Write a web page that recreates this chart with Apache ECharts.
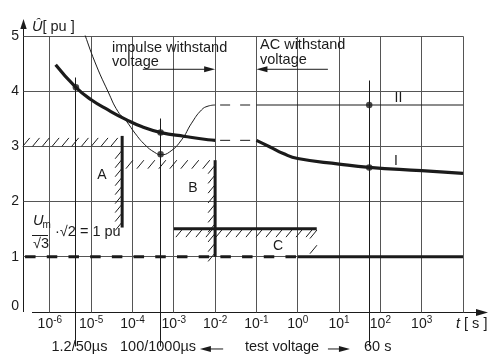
<!DOCTYPE html>
<html><head><meta charset="utf-8">
<script src="https://cdn.jsdelivr.net/npm/echarts@6/dist/echarts.min.js"></script>
<style>html,body{margin:0;padding:0;background:#fff}#c{width:491px;height:354px}</style>
</head><body><div id="c"></div>
<script>
// ---- data (x = log10 t [s], y = U [pu]) ----
const decades = [-6, -5, -4, -3, -2, -1, 0, 1, 2, 3, 4];
const tickLabels = [-6, -5, -4, -3, -2, -1, 0, 1, 2, 3];
const uTicks = [1, 2, 3, 4, 5];
const curveI_impulse = [[-5.86,4.48],[-5.37,4.07],[-4.99,3.84],[-4.59,3.66],[-4.14,3.48],[-3.78,3.36],[-3.31,3.25],[-2.73,3.18],[-2.17,3.12],[-2.0,3.11]];
const curveI_ac = [[-1,3.11],[-0.67,2.99],[-0.35,2.87],[0,2.78],[1,2.68],[1.73,2.62],[3,2.56],[4,2.51]];
const curveII_impulse = [[-5.27,5.25],[-5.195,5.11],[-4.91,4.53],[-4.59,3.99],[-4.35,3.63],[-4.14,3.45],[-3.94,3.24],[-3.70,3.03],[-3.46,2.89],[-3.31,2.85],[-3.10,2.90],[-2.81,3.12],[-2.57,3.42],[-2.33,3.66],[-2.17,3.73],[-2.0,3.75]];
const curveII_ac = [[-1,3.75],[4,3.75]];
const gapI = [[-2,3.11],[-1,3.11]];
const gapII = [[-2,3.75],[-1,3.75]];
const dots = [[-5.37,4.07],[-3.32,3.25],[-3.32,2.86],[1.73,2.62],[1.73,3.75]];
const testTimes = [-5.39, -3.32, 1.73];
const testTops = [4.25, 3.51, 4.20];
const testBottom = -0.62;
const puDashed = [[-6.60,1],[0,1]];
const puSolid = [[0,1],[4,1]];
const limitLines = [[-4.25,3.19,-4.25,1.53],[-2,2.75,-2,1],[-3,1.51,0.46,1.51]];
// hatch rows: t1,u1,t2,u2, side(+1 above/right, -1 below/left), tick count
const hatchRows = [
  [-6.656,3.0,-4.525,3.0, 1,10],
  [-4.25,2.93,-4.25,1.63,-1,9],
  [-3.99,2.75,-2.13,2.75,-1,8],
  [-2,2.66,-2,1.07,-1,10],
  [-2.78,1.51,0.37,1.51,-1,14],
  [0.465,1.485,0.465,1.21,-1,2]
];

const FONT = '"Liberation Sans", Arial, Helvetica, sans-serif';
const INK = '#1b1b1b', GRID = '#555';

const chart = echarts.init(document.getElementById('c'), null, {renderer:'canvas'});

function segSeries(name, data, style, z, crisp) {
  return {
    type:'custom', name, z, silent:true, clip:false,
    encode:{x:[0,2], y:[1,3]}, data,
    renderItem:(params, api) => {
      let a = api.coord([api.value(0), api.value(1)]);
      let b = api.coord([api.value(2), api.value(3)]);
      if (crisp) { const r = v => Math.round(v - 0.5) + 0.5; a = [r(a[0]), r(a[1])]; b = [r(b[0]), r(b[1])]; }
      return {type:'line', shape:{x1:a[0], y1:a[1], x2:b[0], y2:b[1]}, style};
    }
  };
}

const gridSegs = decades.map(d => [d, 0, d, 5]).concat(uTicks.map(u => [-6.65, u, 4, u]));
const testSegs = testTimes.map((t, i) => [t, testTops[i], t, testBottom]);
const arrowSegs = [[-3.75,4.397,-2.0,4.397],[0.73,4.397,-1.0,4.397],[-1.805,-0.67,-2.369,-0.67],[0.731,-0.67,1.264,-0.67]];

const txt = (text, x, y, opts) => ({type:'text', x, y, silent:true, z:50,
  style:Object.assign({text, fontSize:14.5, fontFamily:FONT, fill:INK, align:'left', verticalAlign:'middle'}, opts || {})});

const option = {
  animation:false,
  grid:{left:23, right:28, top:36, bottom:42},
  xAxis:{type:'value', min:-6.65, max:4, axisLine:{show:false}, axisTick:{show:false}, splitLine:{show:false},
    axisLabel:{customValues:tickLabels, margin:3, formatter: v => '{b|10}{s|' + v + '}',
      rich:{b:{fontSize:14, lineHeight:18, fontFamily:FONT, color:INK},
            s:{fontSize:10, lineHeight:10, verticalAlign:'top', fontFamily:FONT, color:INK}}}},
  yAxis:{type:'value', min:0, max:5, interval:1, axisLine:{show:false}, axisTick:{show:false}, splitLine:{show:false},
    axisLabel:{margin:4, fontSize:14, fontFamily:FONT, color:INK,
      formatter: v => v === 0 ? '{z|0}' : String(v),
      rich:{z:{fontSize:14, fontFamily:FONT, color:INK, padding:[0,0,12,0]}}}},
  graphic:[
    {type:'line', silent:true, shape:{x1:23.5,y1:312,x2:23.5,y2:27}, style:{stroke:INK, lineWidth:1}},
    {type:'polygon', silent:true, shape:{points:[[23.5,19],[20.3,29],[26.7,29]]}, style:{fill:INK}},
    {type:'line', silent:true, shape:{x1:32,y1:312.5,x2:478,y2:312.5}, style:{stroke:INK, lineWidth:1}},
    {type:'polygon', silent:true, shape:{points:[[488,312.5],[476,309],[476,316]]}, style:{fill:INK}},
    {type:'text', x:32, y:26.5, silent:true, style:{text:'{i|Û}{n|[ pu ]}', verticalAlign:'middle',
      rich:{i:{fontSize:14.5, fontStyle:'italic', fontFamily:FONT, fill:INK}, n:{fontSize:14.5, fontFamily:FONT, fill:INK}}}},
    {type:'text', x:456, y:324, silent:true, style:{text:'{i|t}{n| [ s ]}', verticalAlign:'middle',
      rich:{i:{fontSize:14.5, fontStyle:'italic', fontFamily:FONT, fill:INK}, n:{fontSize:14.5, fontFamily:FONT, fill:INK}}}},
    txt('impulse withstand', 112, 48.2),
    txt('voltage', 112, 62.2),
    txt('AC withstand', 260, 44.8),
    txt('voltage', 260, 59.5),
    txt('A', 102, 175, {align:'center', fontSize:14}),
    txt('B', 193, 188, {align:'center', fontSize:14}),
    txt('C', 278, 246, {align:'center', fontSize:14}),
    txt('II', 398.5, 98, {align:'center', fontSize:14}),
    txt('I', 396, 161, {align:'center', fontSize:14}),
    txt('U', 33, 220.5, {fontStyle:'italic'}),
    txt('m', 42.5, 225.5, {fontSize:10}),
    {type:'line', silent:true, shape:{x1:32,y1:235.5,x2:48,y2:235.5}, style:{stroke:INK, lineWidth:1}},
    txt('√3', 33, 244),
    txt('·√2 = 1 pu', 55, 232),
    txt('1.2/50µs', 51.5, 347.2),
    txt('100/1000µs', 120, 347.2),
    txt('test voltage', 245, 347.2),
    txt('60 s', 364, 347.2)
  ],
  series:[
    segSeries('grid', gridSegs, {stroke:GRID, lineWidth:1}, 1, true),
    segSeries('tests', testSegs, {stroke:INK, lineWidth:1}, 3, true),
    segSeries('limits', limitLines, {stroke:INK, lineWidth:3}, 5, false),
    {type:'custom', name:'hatch', z:5, silent:true, clip:false, encode:{x:[0,2], y:[1,3]}, data:hatchRows,
      renderItem:(params, api) => {
        const p1 = api.coord([api.value(0), api.value(1)]);
        const p2 = api.coord([api.value(2), api.value(3)]);
        const side = api.value(4), n = api.value(5);
        const HX = 7, HY = 8.5, children = [];
        for (let i = 0; i < n; i++) {
          const f = n > 1 ? i / (n - 1) : 0;
          const x = p1[0] + (p2[0] - p1[0]) * f, y = p1[1] + (p2[1] - p1[1]) * f;
          const a = side > 0 ? [x, y] : [x - HX, y + HY];
          const b = side > 0 ? [x + HX, y - HY] : [x, y];
          children.push({type:'line', shape:{x1:a[0], y1:a[1], x2:b[0], y2:b[1]}, style:{stroke:INK, lineWidth:1}});
        }
        return {type:'group', children};
      }},
    {type:'custom', name:'arrows', z:6, silent:true, clip:false, encode:{x:[0,2], y:[1,3]}, data:arrowSegs,
      renderItem:(params, api) => {
        const a = api.coord([api.value(0), api.value(1)]);
        const b = api.coord([api.value(2), api.value(3)]);
        const L = Math.hypot(b[0]-a[0], b[1]-a[1]);
        const d = [(b[0]-a[0])/L, (b[1]-a[1])/L], nrm = [-d[1], d[0]];
        const hl = 11, hw = 3;
        const base = [b[0]-d[0]*hl, b[1]-d[1]*hl];
        return {type:'group', children:[
          {type:'line', shape:{x1:a[0], y1:a[1], x2:base[0]+d[0]*3, y2:base[1]+d[1]*3}, style:{stroke:INK, lineWidth:1}},
          {type:'polygon', shape:{points:[b, [base[0]+nrm[0]*hw, base[1]+nrm[1]*hw], [base[0]-nrm[0]*hw, base[1]-nrm[1]*hw]]}, style:{fill:INK}}
        ]};
      }},
    {type:'line', name:'1 pu dashed', data:puDashed, symbol:'none', z:4, lineStyle:{width:3, color:INK, type:[10.5,11.2]}},
    {type:'line', name:'1 pu', data:puSolid, symbol:'none', z:4, lineStyle:{width:3, color:INK}},
    {type:'line', name:'I', data:curveI_impulse, smooth:0.5, symbol:'none', z:6, lineStyle:{width:3.2, color:INK}},
    {type:'line', name:'I gap', data:gapI, symbol:'none', z:6, lineStyle:{width:1, color:INK, type:[10,10], dashOffset:15}},
    {type:'line', name:'I ac', data:curveI_ac, smooth:0.5, symbol:'none', z:6, lineStyle:{width:3.2, color:INK}},
    {type:'line', name:'II', data:curveII_impulse, smooth:0.5, symbol:'none', z:6, lineStyle:{width:1, color:INK}},
    {type:'line', name:'II gap', data:gapII, symbol:'none', z:6, lineStyle:{width:1, color:INK, type:[10,10], dashOffset:15}},
    {type:'line', name:'II ac', data:curveII_ac, symbol:'none', z:6, lineStyle:{width:1.2, color:INK}},
    {type:'scatter', name:'dots', data:dots, symbol:'circle', symbolSize:6.5, z:8, itemStyle:{color:INK}}
  ]
};
chart.setOption(option);
</script></body></html>
